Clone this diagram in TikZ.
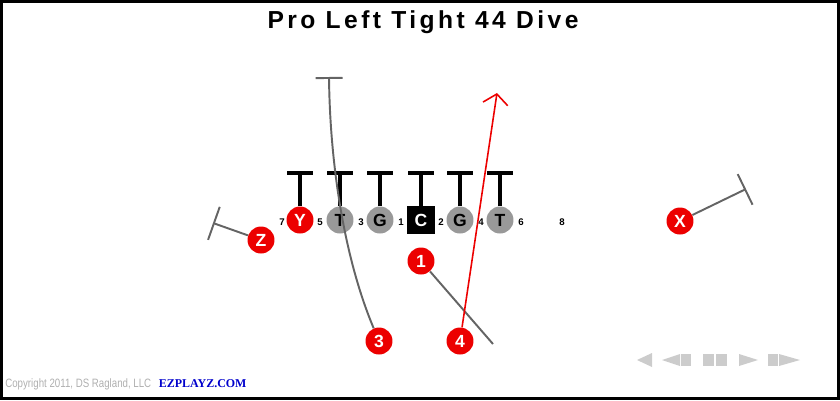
\documentclass[tikz,border=0pt]{standalone}
\usepackage{fontspec}
\setmainfont{Liberation Sans}
\newfontfamily\titlefont[LetterSpace=14]{Liberation Sans}
\newfontfamily\copyfont[FakeStretch=0.8]{Liberation Sans}
\newfontfamily\sitefont{Liberation Serif}
\usetikzlibrary{arrows.meta, positioning}
\definecolor{playred}{RGB}{236,0,0}
\definecolor{linegray}{RGB}{153,153,153}
\definecolor{routegray}{RGB}{100,100,100}
\definecolor{copygray}{RGB}{175,175,175}
\definecolor{ctrlgray}{RGB}{204,204,204}
\definecolor{siteblue}{RGB}{0,0,204}

\begin{document}
\begin{tikzpicture}[x = 0.02cm, y = -0.02cm,
	main/.style = {circle, fill, minimum size = 0.54cm, inner sep = 0pt, font = \fontsize{10}{11}\bfseries},
	center/.style = {rectangle, fill, minimum size = 0.56cm, inner sep = 0pt, font = \fontsize{10}{11}\bfseries},
	hole/.style = {inner sep = 0pt, font = \fontsize{5.5}{6}\bfseries},
	block/.style = {line width = 2.1pt, -{Bar[width = 0.52cm]}},
	route/.style = {draw = routegray, line width = 1.1pt},
	redroute/.style = {draw = playred, line width = 0.9pt, -{Straight Barb[length = 0.2cm, width = 0.5cm]}}]
		\useasboundingbox (0,0) rectangle (840,400);
		\draw[line width = 0.06cm] (1.5,1.5) rectangle (838.5,398);
		\node[font = {\titlefont\bfseries\fontsize{14}{16}\selectfont}] (title) at (423,22) {Pro Left Tight 44 Dive};
		\node[main, color = playred] (y) at (300,220) {\textcolor{white}{Y}};
		\node[main, color = linegray] (lt) at (340,220) {\textcolor{black}{T}};
		\node[main, color = linegray] (lg) at (380,220) {\textcolor{black}{G}};
		\node[center, color = black] (c) at (421,220) {\textcolor{white}{C}};
		\node[main, color = linegray] (rg) at (460,220) {\textcolor{black}{G}};
		\node[main, color = linegray] (rt) at (500,220) {\textcolor{black}{T}};
		\node[main, color = playred] (z) at (261,240) {\textcolor{white}{Z}};
		\node[main, color = playred] (x) at (680,221) {\textcolor{white}{X}};
		\node[main, color = playred] (1) at (421,261) {\textcolor{white}{1}};
		\node[main, color = playred] (3) at (379,341) {\textcolor{white}{3}};
		\node[main, color = playred] (4) at (460,341) {\textcolor{white}{4}};
		\node[hole] (h7) at (282,222) {7};
		\node[hole] (h5) at (320,222) {5};
		\node[hole] (h3) at (361,222) {3};
		\node[hole] (h1) at (401,222) {1};
		\node[hole] (h2) at (441,222) {2};
		\node[hole] (h4) at (481,222) {4};
		\node[hole] (h6) at (521,222) {6};
		\node[hole] (h8) at (562,222) {8};
		\coordinate (z end) at (213,223);
		\coordinate (x end) at (746,189);
		\coordinate (r3 end) at (329,77);
		\coordinate (r1 end) at (493,344);
		\coordinate (r4 end) at (497,93);
		\draw[block] (y) -- ++(0,-49);
		\draw[block] (lt) -- ++(0,-49);
		\draw[block] (lg) -- ++(0,-49);
		\draw[block] (c) -- ++(0,-49);
		\draw[block] (rg) -- ++(0,-49);
		\draw[block] (rt) -- ++(0,-49);
		\draw[route, -{Bar[width = 0.7cm]}] (z) -- (z end);
		\draw[route, -{Bar[width = 0.68cm]}] (x) -- (x end);
		\draw[route, -{Bar[width = 0.54cm]}] (3) .. controls (343,255) and (330,160) .. (r3 end);
		\draw[route] (1) -- (r1 end);
		\draw[redroute] (4) -- (r4 end);
		\node[anchor = west, inner sep = 0pt, text = copygray, font = {\copyfont\fontsize{6.9}{8}\selectfont}] (copy) at (5,384) {Copyright 2011, DS Ragland, LLC};
		\node[right = 0.14cm of copy, inner sep = 0pt, text = siteblue, font = {\sitefont\bfseries\fontsize{6.8}{8}\selectfont}] (site) {EZPLAYZ.COM};
		\fill[ctrlgray] (637,360) -- (652,353) -- (652,367) -- cycle;
		\fill[ctrlgray] (662,360) -- (680,354) -- (680,366) -- cycle;
		\fill[ctrlgray] (681,354) rectangle (691,366);
		\fill[ctrlgray] (703,354) rectangle (714,366);
		\fill[ctrlgray] (716,354) rectangle (727,366);
		\fill[ctrlgray] (739,354) -- (758,360) -- (739,366) -- cycle;
		\fill[ctrlgray] (768,354) rectangle (778,366);
		\fill[ctrlgray] (779,354) -- (800,360) -- (779,366) -- cycle;
	\end{tikzpicture}
\end{document}
